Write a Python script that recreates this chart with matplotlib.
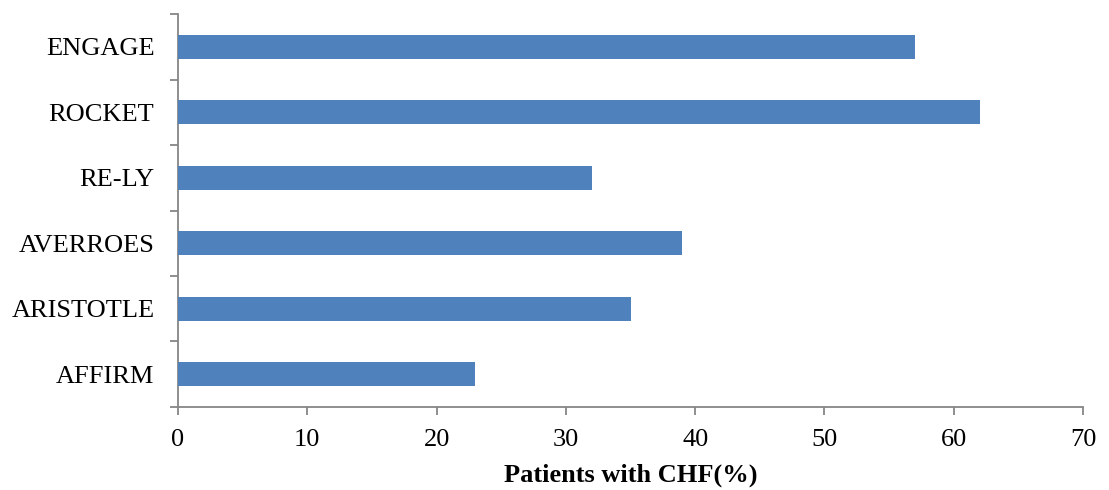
import numpy as np
import matplotlib
matplotlib.use('Agg')
import matplotlib.pyplot as plt
from matplotlib.ticker import FixedLocator

# --- Dados ---
estudos = ['AFFIRM', 'ARISTOTLE', 'AVERROES', 'RE-LY', 'ROCKET', 'ENGAGE']
pct_chf = [23, 35, 39, 32, 62, 57]
xticks = [0, 10, 20, 30, 40, 50, 60, 70]

plt.rcParams['font.family'] = ['Liberation Serif', 'DejaVu Serif']

fig = plt.figure(figsize=(11.09, 4.90), dpi=100)
ax = fig.add_axes([0.1605, 0.1694, 0.9766 - 0.1605, 0.9714 - 0.1694])

y = np.arange(len(estudos))
ax.barh(y, pct_chf, height=0.37, color='#4F81BD', zorder=3)

ax.set_xlim(0, 70)
ax.set_ylim(-0.5, len(estudos) - 0.5)
ax.set_xticks(xticks)
ax.set_yticks(y)
ax.set_yticklabels(estudos)
ax.yaxis.set_minor_locator(FixedLocator(np.arange(-0.5, len(estudos), 1.0)))

cinza = '#868686'
for s in ['top', 'right']:
    ax.spines[s].set_visible(False)
for s in ['left', 'bottom']:
    ax.spines[s].set_color(cinza)
    ax.spines[s].set_linewidth(1.3)

ax.tick_params(axis='y', which='major', length=0, pad=17, labelsize=19)
ax.tick_params(axis='y', which='minor', length=6, width=1.3, color=cinza)
ax.tick_params(axis='x', which='major', length=6, width=1.3, color=cinza, pad=10, labelsize=19)

ax.set_xlabel('Patients with CHF(%)', fontsize=19, fontweight='bold', labelpad=9)

fig.savefig('out.png', dpi=100)
